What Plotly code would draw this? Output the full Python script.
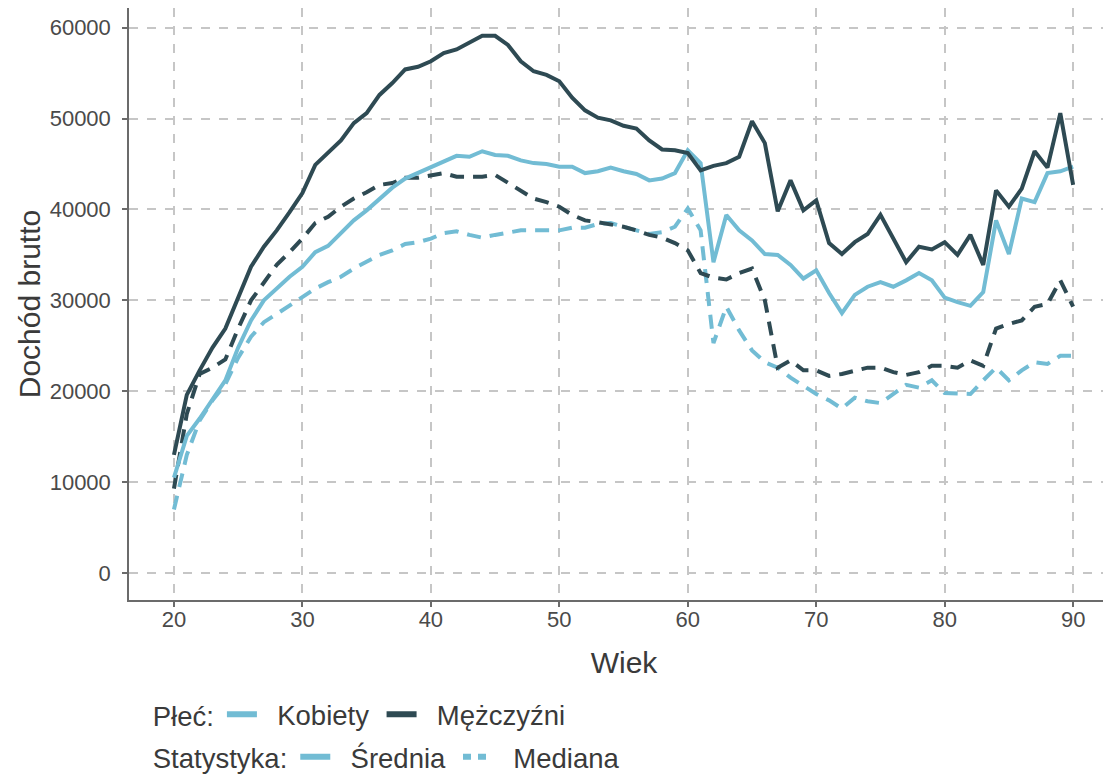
import plotly.graph_objects as go

ages = list(range(20, 91))

men_mean = [13000, 19600, 22300, 24800, 26900, 30200, 33700, 35900, 37700, 39700,
            41800, 44900, 46300, 47600, 49500, 50600, 52600, 53900, 55400, 55700,
            56300, 57200, 57600, 58300, 59100, 59100, 58100, 56300, 55200, 54800,
            54100, 52300, 50900, 50100, 49800, 49200, 48900, 47600, 46600, 46500,
            46200, 44300, 44800, 45100, 45800, 49700, 47300, 39800, 43200, 39900,
            41000, 36300, 35100, 36400, 37300, 39400, 36800, 34200, 35900, 35600,
            36400, 35000, 37200, 33900, 42100, 40300, 42300, 46400, 44600, 50600,
            42700]

women_mean = [10500, 15100, 17000, 19200, 21200, 24800, 27800, 30000, 31300, 32600,
              33700, 35300, 36000, 37400, 38800, 39900, 41200, 42400, 43400, 44000,
              44600, 45300, 45900, 45800, 46400, 46000, 45900, 45400, 45100, 45000,
              44700, 44700, 44000, 44200, 44600, 44200, 43900, 43200, 43400, 44000,
              46500, 45100, 34200, 39400, 37700, 36600, 35100, 35000, 33900, 32400,
              33300, 30800, 28600, 30600, 31500, 32000, 31500, 32200, 33000, 32200,
              30300, 29800, 29400, 30900, 38800, 35100, 41200, 40800, 44000, 44200,
              44700]

men_median = [9300, 17500, 21900, 22600, 23500, 26900, 30000, 32000, 33900, 35300,
              36800, 38500, 39200, 40300, 41200, 41900, 42700, 42900, 43500, 43500,
              43700, 44000, 43600, 43600, 43600, 43800, 42900, 42100, 41200, 40800,
              40300, 39400, 38800, 38600, 38400, 38100, 37700, 37200, 36900, 36300,
              35500, 33000, 32500, 32300, 33000, 33500, 30000, 22600, 23400, 22300,
              22300, 21700, 21900, 22200, 22600, 22600, 22100, 21800, 22100, 22800,
              22800, 22600, 23400, 22800, 26900, 27400, 27800, 29300, 29600, 32200,
              29300]

women_median = [7000, 13000, 16800, 19000, 20800, 23700, 26000, 27600, 28500, 29400,
                30400, 31300, 32000, 32600, 33500, 34200, 35000, 35500, 36200, 36400,
                36800, 37400, 37600, 37200, 36900, 37200, 37500, 37700, 37700, 37700,
                37700, 38000, 38000, 38400, 38500, 38100, 37700, 37300, 37500, 38100,
                40100, 37700, 25300, 29300, 26700, 24500, 23200, 22600, 21500, 20600,
                19700, 19000, 18100, 19300, 18900, 18700, 19700, 20700, 20400, 21200,
                19800, 19700, 19700, 21200, 22600, 21200, 22300, 23200, 23000, 23900,
                23900]

x_ticks = [20, 30, 40, 50, 60, 70, 80, 90]
y_ticks = [0, 10000, 20000, 30000, 40000, 50000, 60000]

LIGHT = "#72BCD4"
DARK = "#2E4A53"
DASH = "14px,9px"
LW = 4

NB = "\u00a0"

fig = go.Figure()

series = [
    (women_median, LIGHT, DASH),
    (men_median, DARK, DASH),
    (women_mean, LIGHT, "solid"),
    (men_mean, DARK, "solid"),
]
for vals, col, dash in series:
    fig.add_trace(go.Scatter(x=ages, y=vals, mode="lines", showlegend=False,
                             line=dict(color=col, width=LW, dash=dash),
                             hoverinfo="skip"))

# legend entries
fig.add_trace(go.Scatter(x=[None], y=[None], mode="lines", name=NB * 2 + "Kobiety" + NB,
                         line=dict(color=LIGHT, width=6), legend="legend"))
fig.add_trace(go.Scatter(x=[None], y=[None], mode="lines", name=NB * 2 + "Mężczyźni",
                         line=dict(color=DARK, width=6), legend="legend"))
fig.add_trace(go.Scatter(x=[None], y=[None], mode="lines", name=NB * 2 + "Średnia" + NB,
                         line=dict(color=LIGHT, width=6), legend="legend2"))
fig.add_trace(go.Scatter(x=[None], y=[None], mode="lines", name=NB * 2 + "Mediana",
                         line=dict(color=LIGHT, width=6, dash="8px,7px"), legend="legend2"))

FONT = "Arial, Liberation Sans, sans-serif"
TXT = "#3a3a3a"
LEGF = 27.5

fig.update_layout(
    width=1111, height=774,
    margin=dict(l=121, r=0, t=0, b=182),
    paper_bgcolor="white", plot_bgcolor="white",
    font=dict(family=FONT, color=TXT),
    legend=dict(orientation="h", x=0.022, y=0.119, xanchor="left", yanchor="top",
                yref="container",
                title=dict(text="Płeć:", side="left", font=dict(size=LEGF, color=TXT)),
                font=dict(size=LEGF, color=TXT), itemwidth=30, traceorder="normal",
                bgcolor="rgba(0,0,0,0)"),
    legend2=dict(orientation="h", x=0.022, y=0.064, xanchor="left", yanchor="top",
                 yref="container",
                 title=dict(text="Statystyka:", side="left", font=dict(size=LEGF, color=TXT)),
                 font=dict(size=LEGF, color=TXT), itemwidth=30, traceorder="normal",
                 bgcolor="rgba(0,0,0,0)"),
)

fig.update_xaxes(
    range=[16.5, 93.57], tickvals=x_ticks, ticktext=[str(v) for v in x_ticks],
    showgrid=True, gridcolor="#c6c6c6", griddash="9px,9px", gridwidth=1.5,
    showline=True, linecolor="#6b6b6b", linewidth=1.5,
    ticks="outside", ticklen=5, tickcolor="#6b6b6b", tickwidth=1.5,
    tickfont=dict(size=22, color="#4a4a4a"), ticklabelstandoff=-6,
    title=dict(text="Wiek", font=dict(size=30, color=TXT), standoff=21),
    zeroline=False, automargin=False,
)
fig.update_yaxes(
    range=[-2960, 62160], tickvals=y_ticks, ticktext=[str(v) for v in y_ticks],
    showgrid=True, gridcolor="#c6c6c6", griddash="9px,9px", gridwidth=1.5,
    showline=True, linecolor="#6b6b6b", linewidth=1.5,
    ticks="outside", ticklen=5, tickcolor="#6b6b6b", tickwidth=1.5,
    tickfont=dict(size=22, color="#4a4a4a"), ticklabelstandoff=7,
    title=dict(text="Dochód brutto", font=dict(size=30, color=TXT), standoff=0),
    zeroline=False, automargin=False,
)

fig.write_html("out.html")
